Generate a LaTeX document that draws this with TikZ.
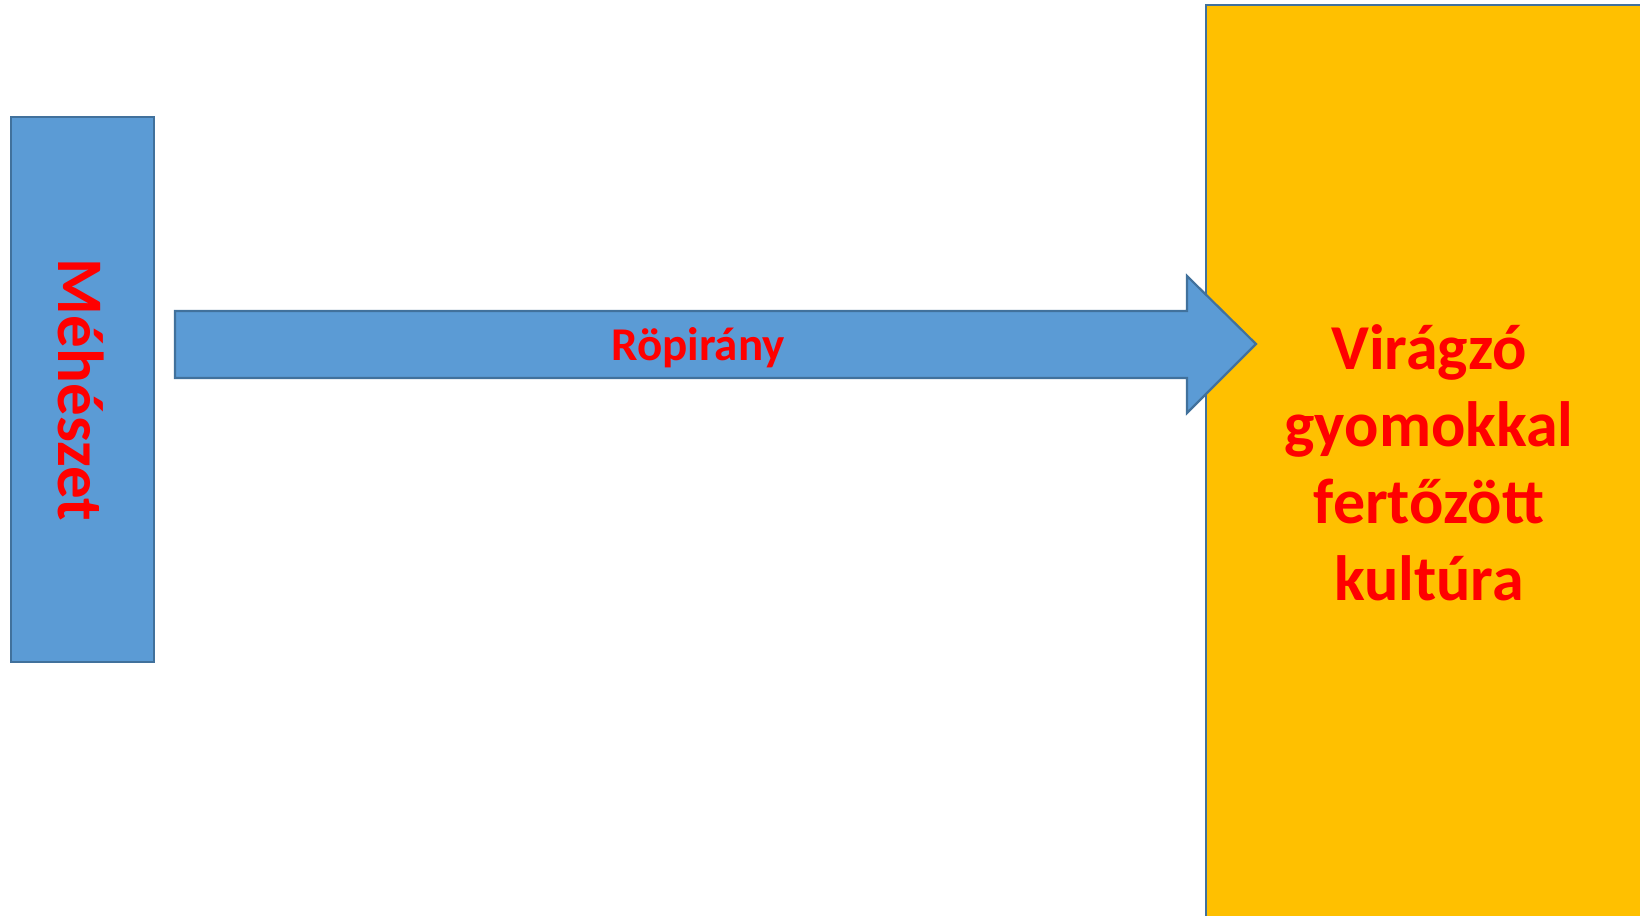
\documentclass[tikz,border=0pt]{standalone}
\usepackage{fontspec}
\setmainfont{Carlito}
\definecolor{boxblue}{HTML}{5B9BD5}
\definecolor{edgeblue}{HTML}{41719C}
\definecolor{cropyellow}{HTML}{FFC000}
\definecolor{labelred}{HTML}{FF0000}
\tikzset{
  bluebox/.style={fill=boxblue, draw=edgeblue, line width=2.2pt},
  yellowbox/.style={fill=cropyellow, draw=edgeblue, line width=2.2pt},
  redlabel/.style={text=labelred, font=\bfseries, inner sep=0pt},
}
\begin{document}
\begin{tikzpicture}[x=1pt,y=-1pt]
\useasboundingbox (0,0) rectangle (1640,915);
\clip (0,0) rectangle (1640,915);
\fill[white] (0,0) rectangle (1640,915);
% yellow field
\draw[yellowbox] (1206,5) rectangle (1660,935);
\node[redlabel, align=center, font=\fontsize{64}{77}\selectfont\bfseries] (kultura) at (1429,463)
  {Virágzó\\gyomokkal\\fertőzött\\kultúra};
% apiary
\draw[bluebox] (11,117) rectangle (154,662);
\node[redlabel, rotate=-90, font=\fontsize{65}{78}\selectfont\bfseries] (meheszet) at (81.5,390) {Méhészet};
% flight direction arrow
\draw[bluebox, line join=miter] (175,311) -- (1187,311) -- (1187,276) -- (1256,344) -- (1187,413) -- (1187,378) -- (175,378) -- cycle;
\node[redlabel, font=\fontsize{47}{56}\selectfont\bfseries] (ropirany) at (698,348) {Röpirány};
\end{tikzpicture}
\end{document}
